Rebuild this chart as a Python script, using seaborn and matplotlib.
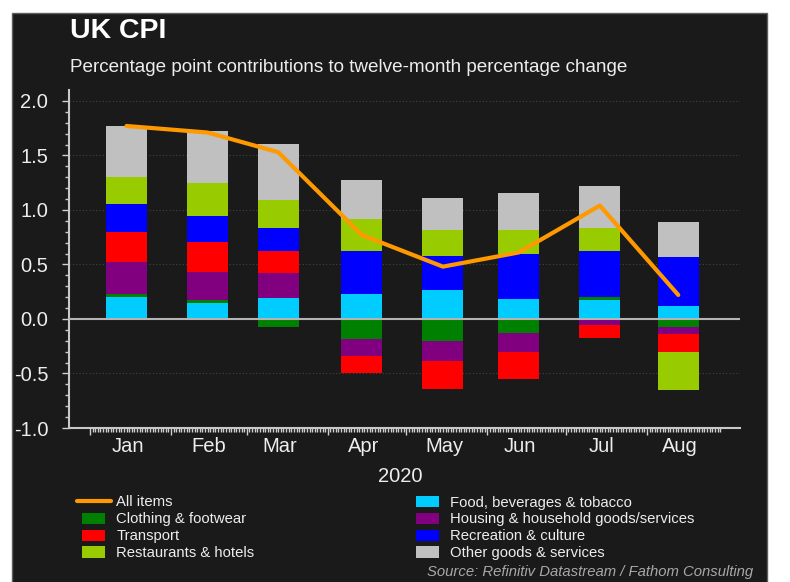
import numpy as np
import pandas as pd
import matplotlib
matplotlib.use("Agg")
import matplotlib.pyplot as plt
import matplotlib.transforms as mtransforms
from matplotlib.patches import Rectangle, Patch
from matplotlib.lines import Line2D
from matplotlib.legend_handler import HandlerPatch
import seaborn as sns

# ---------------- data ----------------
months = ["Jan", "Feb", "Mar", "Apr", "May", "Jun", "Jul", "Aug"]
bar_dates = ["2020-01-15", "2020-02-15", "2020-03-13", "2020-04-14",
             "2020-05-15", "2020-06-13", "2020-07-14", "2020-08-13"]
month_starts = ["2020-01-01", "2020-02-01", "2020-03-01", "2020-04-01",
                "2020-05-01", "2020-06-01", "2020-07-01", "2020-08-01"]
year_label = "2020"

all_items = [1.77, 1.71, 1.53, 0.77, 0.48, 0.61, 1.04, 0.22]
food = [0.20, 0.15, 0.19, 0.23, 0.27, 0.18, 0.17, 0.12]
clothing = [0.03, 0.02, -0.075, -0.185, -0.205, -0.13, 0.03, -0.075]
housing = [0.29, 0.26, 0.23, -0.155, -0.18, -0.175, -0.055, -0.065]
transport = [0.28, 0.28, 0.20, -0.155, -0.26, -0.245, -0.12, -0.165]
recreation = [0.25, 0.23, 0.21, 0.395, 0.31, 0.42, 0.42, 0.45]
restaurants = [0.25, 0.305, 0.265, 0.295, 0.24, 0.22, 0.215, -0.35]
other = [0.47, 0.48, 0.51, 0.35, 0.285, 0.335, 0.38, 0.32]

series_names = ["Food, beverages & tobacco", "Clothing & footwear",
                "Housing & household goods/services", "Transport",
                "Recreation & culture", "Restaurants & hotels",
                "Other goods & services"]
series_values = [food, clothing, housing, transport, recreation, restaurants, other]
series_colors = ["#00CCFF", "#008000", "#800080", "#FF0000",
                 "#0000FF", "#99CC00", "#C0C0C0"]
line_name = "All items"
line_color = "#FF9900"

# ---------------- style ----------------
BG = "#1A1A1A"
FG = "#EDEDED"
sns.set_theme(style="dark", rc={
    "axes.facecolor": BG,
    "figure.facecolor": "white",
    "axes.edgecolor": "#C8C8C8",
    "text.color": FG,
    "xtick.color": "#D0D0D0",
    "ytick.color": "#D0D0D0",
})
plt.rcParams["font.family"] = ["Liberation Sans", "DejaVu Sans"]

W, H = 790, 582
fig = plt.figure(figsize=(W / 100, H / 100), dpi=100)
fig.patch.set_facecolor("white")
fig.patches.append(Rectangle((12 / W, -0.01), (767 - 12) / W, (H - 13) / H + 0.01,
                             transform=fig.transFigure, facecolor=BG,
                             edgecolor="#5E5E5E", linewidth=1.0, zorder=-5))

ax = fig.add_axes([69 / W, (H - 428) / H, (740 - 69) / W, (428 - 90) / H])
ax.set_facecolor(BG)
ax.set_zorder(1)

origin = pd.Timestamp("2020-01-01")
bar_x = np.array([(pd.Timestamp(d) - origin).days for d in bar_dates], dtype=float)
start_x = np.array([(pd.Timestamp(d) - origin).days for d in month_starts], dtype=float)

# stacked bars (positive up from zero, negative down from zero)
pos = np.zeros(len(months))
neg = np.zeros(len(months))
min_gap = np.min(np.diff(bar_x))
bar_width_days = 15.7
for name, vals, col in zip(series_names, series_values, series_colors):
    v = np.array(vals, dtype=float)
    bottoms = np.where(v >= 0, pos, neg)
    sns.barplot(x=bar_x, y=v, bottom=bottoms, ax=ax, color=col, saturation=1,
                native_scale=True, width=bar_width_days / min_gap,
                errorbar=None, linewidth=0, zorder=2)
    pos = np.where(v >= 0, pos + v, pos)
    neg = np.where(v < 0, neg + v, neg)

ax.axhline(0, color="#B4B4B4", linewidth=1.5, zorder=3)
sns.lineplot(x=bar_x, y=all_items, ax=ax, color=line_color, linewidth=3,
             sort=False, zorder=4)

# axes
ax.set_ylim(-1.0, 2.1)
ax.set_xlim(-8.0, 248.6)
ax.set_yticks(np.arange(-1.0, 2.01, 0.5))
ax.set_yticklabels([f"{t:.1f}" for t in np.arange(-1.0, 2.01, 0.5)], fontsize=14.5, color=FG)
ax.set_yticks(np.arange(-1.0, 2.01, 0.1), minor=True)
ax.set_xticks(start_x)
ax.set_xticklabels([])
ax.set_xticks(np.arange(0, 242, 1), minor=True)
ax.tick_params(axis="y", which="major", direction="out", length=5, width=1, pad=10, left=True)
ax.tick_params(axis="y", which="minor", direction="out", length=3, width=1, left=True)
ax.tick_params(axis="x", which="major", direction="out", length=5, width=1, bottom=True)
ax.tick_params(axis="x", which="minor", direction="out", length=3, width=1, bottom=True)
ax.set_xlabel("")
ax.set_ylabel("")
ax.yaxis.grid(True, which="major", linestyle=(0, (1, 2)), color="#444444", linewidth=0.8)
ax.xaxis.grid(False)
ax.set_axisbelow(True)
for s in ["top", "right"]:
    ax.spines[s].set_visible(False)
for s in ["left", "bottom"]:
    ax.spines[s].set_visible(True)
    ax.spines[s].set_color("#C8C8C8")
    ax.spines[s].set_linewidth(1.5)

trans = mtransforms.blended_transform_factory(ax.transData, fig.transFigure)
for xm, lab in zip(bar_x, months):
    ax.text(xm + 0.5, 1 - 452 / H, lab, transform=trans, ha="center", va="baseline",
            fontsize=14.5, color=FG, clip_on=False)
fig.text(400 / W, 1 - 482 / H, year_label, ha="center", va="baseline", fontsize=14.5, color=FG)

# titles
fig.text(70 / W, 1 - 38 / H, "UK CPI", fontsize=20.5, fontweight="bold", color="white",
         va="baseline", ha="left")
fig.text(70 / W, 1 - 72 / H, "Percentage point contributions to twelve-month percentage change",
         fontsize=13.6, color=FG, va="baseline", ha="left")

# legend
def small_patch(legend, orig_handle, xdescent, ydescent, width, height, fontsize):
    return Rectangle((-xdescent + 0.16 * width, -ydescent - 0.05 * height),
                     0.68 * width, 1.1 * height)

col_of = dict(zip(series_names, series_colors))
order = [line_name, "Clothing & footwear", "Transport", "Restaurants & hotels",
         "Food, beverages & tobacco", "Housing & household goods/services",
         "Recreation & culture", "Other goods & services"]
handles = []
for nm in order:
    if nm == line_name:
        handles.append(Line2D([0], [0], color=line_color, linewidth=3))
    else:
        handles.append(Patch(facecolor=col_of[nm], edgecolor="none"))
hmap = {h: HandlerPatch(patch_func=small_patch) for h in handles if isinstance(h, Patch)}
leg = fig.legend(handles, order, ncol=2, loc="upper left",
                 bbox_to_anchor=(77 / W, 1 - 495.5 / H), frameon=False,
                 fontsize=10.7, handlelength=2.28, handleheight=0.7,
                 handletextpad=0.37, columnspacing=10.5, labelspacing=0.2,
                 borderpad=0, borderaxespad=0, handler_map=hmap)
for t in leg.get_texts():
    t.set_color(FG)

fig.text(753 / W, 1 - 572 / H, "Source: Refinitiv Datastream / Fathom Consulting",
         ha="right", va="center", fontsize=10.7, style="italic", color="#A8A8A8")

fig.savefig("out.png", dpi=100, facecolor="white")
